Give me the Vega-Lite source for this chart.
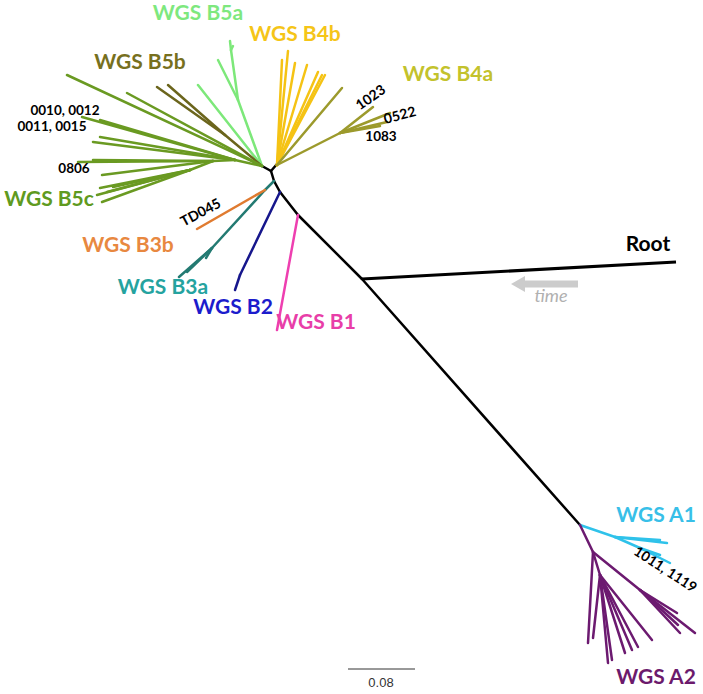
{
  "$schema": "https://vega.github.io/schema/vega-lite/v6.json",
  "width": 703,
  "height": 694,
  "padding": 0,
  "autosize": {"type": "none"},
  "background": "white",
  "config": {"view": {"stroke": null}},
  "datasets": {
    "segments": [
      {"clade": "bb", "x": 362, "y": 279, "x2": 580, "y2": 525},
      {"clade": "bb", "x": 362, "y": 279, "x2": 298, "y2": 215},
      {"clade": "bb", "x": 298, "y": 215, "x2": 280, "y2": 192},
      {"clade": "bb", "x": 280, "y": 192, "x2": 274, "y2": 181},
      {"clade": "bb", "x": 274, "y": 181, "x2": 271, "y2": 171},
      {"clade": "bb", "x": 271, "y": 171, "x2": 262, "y2": 166},
      {"clade": "bb", "x": 271, "y": 171, "x2": 277, "y2": 164},
      {"clade": "B1", "x": 298, "y": 215, "x2": 277, "y2": 330},
      {"clade": "B2", "x": 280, "y": 192, "x2": 240, "y2": 275},
      {"clade": "B2", "x": 240, "y": 275, "x2": 235, "y2": 290},
      {"clade": "B3a", "x": 274, "y": 181, "x2": 265, "y2": 190},
      {"clade": "B3a", "x": 265, "y": 190, "x2": 212, "y2": 248},
      {"clade": "B3a", "x": 212, "y": 248, "x2": 179, "y2": 277},
      {"clade": "B3a", "x": 212, "y": 248, "x2": 187, "y2": 272},
      {"clade": "B3a", "x": 212, "y": 248, "x2": 206, "y2": 258},
      {"clade": "B3b", "x": 265, "y": 190, "x2": 197, "y2": 229},
      {"clade": "B5a", "x": 262, "y": 166, "x2": 198, "y2": 85},
      {"clade": "B5a", "x": 262, "y": 166, "x2": 238, "y2": 100},
      {"clade": "B5a", "x": 238, "y": 100, "x2": 218, "y2": 60},
      {"clade": "B5a", "x": 238, "y": 100, "x2": 231, "y2": 50},
      {"clade": "B5a", "x": 231, "y": 50, "x2": 230, "y2": 41},
      {"clade": "B5a", "x": 231, "y": 50, "x2": 233, "y2": 46},
      {"clade": "B5b", "x": 262, "y": 166, "x2": 225, "y2": 135},
      {"clade": "B5b", "x": 225, "y": 135, "x2": 157, "y2": 87},
      {"clade": "B5b", "x": 225, "y": 135, "x2": 168, "y2": 85},
      {"clade": "B5c", "x": 262, "y": 166, "x2": 67, "y2": 75},
      {"clade": "B5c", "x": 262, "y": 166, "x2": 127, "y2": 93},
      {"clade": "B5c", "x": 262, "y": 166, "x2": 235, "y2": 160},
      {"clade": "B5c", "x": 235, "y": 160, "x2": 82, "y2": 117},
      {"clade": "B5c", "x": 235, "y": 160, "x2": 100, "y2": 120},
      {"clade": "B5c", "x": 235, "y": 160, "x2": 93, "y2": 142},
      {"clade": "B5c", "x": 235, "y": 160, "x2": 100, "y2": 137},
      {"clade": "B5c", "x": 235, "y": 160, "x2": 213, "y2": 161},
      {"clade": "B5c", "x": 213, "y": 161, "x2": 78, "y2": 162},
      {"clade": "B5c", "x": 213, "y": 161, "x2": 93, "y2": 160},
      {"clade": "B5c", "x": 213, "y": 161, "x2": 102, "y2": 175},
      {"clade": "B5c", "x": 213, "y": 161, "x2": 190, "y2": 170},
      {"clade": "B5c", "x": 190, "y": 170, "x2": 100, "y2": 188},
      {"clade": "B5c", "x": 190, "y": 170, "x2": 107, "y2": 192},
      {"clade": "B5c", "x": 190, "y": 170, "x2": 113, "y2": 187},
      {"clade": "B5c", "x": 190, "y": 170, "x2": 97, "y2": 195},
      {"clade": "B5c", "x": 190, "y": 170, "x2": 102, "y2": 202},
      {"clade": "B4b", "x": 277, "y": 165, "x2": 282, "y2": 60},
      {"clade": "B4b", "x": 277, "y": 165, "x2": 288, "y2": 51},
      {"clade": "B4b", "x": 277, "y": 165, "x2": 295, "y2": 63},
      {"clade": "B4b", "x": 277, "y": 165, "x2": 307, "y2": 65},
      {"clade": "B4b", "x": 277, "y": 165, "x2": 318, "y2": 72},
      {"clade": "B4b", "x": 277, "y": 165, "x2": 322, "y2": 75},
      {"clade": "B4b", "x": 277, "y": 165, "x2": 325, "y2": 75},
      {"clade": "B4a", "x": 277, "y": 165, "x2": 342, "y2": 88},
      {"clade": "B4a", "x": 277, "y": 165, "x2": 340, "y2": 133},
      {"clade": "B4a", "x": 340, "y": 133, "x2": 373, "y2": 107},
      {"clade": "B4a", "x": 340, "y": 133, "x2": 390, "y2": 113},
      {"clade": "B4a", "x": 340, "y": 133, "x2": 387, "y2": 122},
      {"clade": "B4a", "x": 340, "y": 133, "x2": 380, "y2": 126},
      {"clade": "A1", "x": 580, "y": 525, "x2": 615, "y2": 537},
      {"clade": "A1", "x": 615, "y": 537, "x2": 667, "y2": 543},
      {"clade": "A1", "x": 615, "y": 537, "x2": 660, "y2": 540},
      {"clade": "A1", "x": 615, "y": 537, "x2": 640, "y2": 548},
      {"clade": "A1", "x": 640, "y": 548, "x2": 670, "y2": 563},
      {"clade": "A1", "x": 640, "y": 548, "x2": 660, "y2": 555},
      {"clade": "A2", "x": 580, "y": 525, "x2": 593, "y2": 552},
      {"clade": "A2", "x": 593, "y": 552, "x2": 588, "y2": 643},
      {"clade": "A2", "x": 593, "y": 552, "x2": 600, "y2": 575},
      {"clade": "A2", "x": 600, "y": 575, "x2": 593, "y2": 638},
      {"clade": "A2", "x": 600, "y": 575, "x2": 608, "y2": 663},
      {"clade": "A2", "x": 600, "y": 575, "x2": 612, "y2": 660},
      {"clade": "A2", "x": 600, "y": 575, "x2": 625, "y2": 653},
      {"clade": "A2", "x": 600, "y": 575, "x2": 632, "y2": 650},
      {"clade": "A2", "x": 600, "y": 575, "x2": 638, "y2": 647},
      {"clade": "A2", "x": 600, "y": 575, "x2": 652, "y2": 640},
      {"clade": "A2", "x": 593, "y": 552, "x2": 640, "y2": 590},
      {"clade": "A2", "x": 640, "y": 590, "x2": 680, "y2": 633},
      {"clade": "A2", "x": 640, "y": 590, "x2": 695, "y2": 633},
      {"clade": "A2", "x": 640, "y": 590, "x2": 677, "y2": 613},
      {"clade": "A2", "x": 640, "y": 590, "x2": 678, "y2": 625}
    ],
    "rootBranch": [{"x": 362, "y": 279, "x2": 676, "y2": 262}],
    "scalebar": [{"x": 348, "y": 669, "x2": 415, "y2": 669}],
    "arrow": [{"x": 524, "y": 284, "x2": 578, "y2": 284}],
    "arrowhead": [{"x": 518, "y": 284}],
    "cladeLabels": [
      {"label": "WGS B5a", "clade": "B5a", "x": 198, "y": 14},
      {"label": "WGS B4b", "clade": "B4b", "x": 295, "y": 35},
      {"label": "WGS B5b", "clade": "B5b", "x": 140, "y": 63},
      {"label": "WGS B4a", "clade": "B4a", "x": 448, "y": 75},
      {"label": "WGS B5c", "clade": "B5c", "x": 49, "y": 200},
      {"label": "WGS B3b", "clade": "B3b", "x": 128, "y": 246},
      {"label": "WGS B3a", "clade": "B3a", "x": 163, "y": 288},
      {"label": "WGS B2", "clade": "B2", "x": 233, "y": 308},
      {"label": "WGS B1", "clade": "B1", "x": 316, "y": 323},
      {"label": "WGS A1", "clade": "A1", "x": 656, "y": 516},
      {"label": "WGS A2", "clade": "A2", "x": 656, "y": 678},
      {"label": "Root", "clade": "Root", "x": 648, "y": 245}
    ],
    "tips": [
      {"label": "0010, 0012", "x": 65, "y": 111},
      {"label": "0011, 0015", "x": 52, "y": 127},
      {"label": "0806", "x": 74, "y": 169},
      {"label": "1083", "x": 381, "y": 137}
    ],
    "tipsRot": [
      {"label": "TD045", "x": 201, "y": 213, "rot": "a"},
      {"label": "1023", "x": 371, "y": 98, "rot": "b"},
      {"label": "0522", "x": 400, "y": 116, "rot": "c"},
      {"label": "1011, 1119", "x": 665, "y": 570, "rot": "d"}
    ],
    "misc": [
      {"label": "time", "x": 551, "y": 297},
      {"label": "0.08", "x": 381, "y": 683}
    ]
  },
  "encoding": {
    "x": {"field": "x", "type": "quantitative", "scale": {"domain": [0, 703], "nice": false, "zero": false}, "axis": null},
    "y": {"field": "y", "type": "quantitative", "scale": {"domain": [0, 694], "nice": false, "zero": false, "reverse": true}, "axis": null}
  },
  "layer": [
    {
      "data": {"name": "arrow"},
      "mark": {"type": "rule", "stroke": "#cccccc", "strokeWidth": 7},
      "encoding": {"x2": {"field": "x2"}, "y2": {"field": "y2"}}
    },
    {
      "data": {"name": "arrowhead"},
      "mark": {"type": "point", "shape": "triangle-left", "filled": true, "color": "#cccccc", "size": 260, "opacity": 1}
    },
    {
      "data": {"name": "segments"},
      "mark": {"type": "rule", "strokeWidth": 2.5, "strokeCap": "round"},
      "encoding": {
        "x2": {"field": "x2"},
        "y2": {"field": "y2"},
        "color": {
          "field": "clade", "type": "nominal", "legend": null,
          "scale": {
            "domain": ["bb", "B5a", "B5b", "B5c", "B4b", "B4a", "B3b", "B3a", "B2", "B1", "A1", "A2"],
            "range": ["#000000", "#7de87a", "#6b651c", "#6a9a22", "#f5c314", "#9c9a2c", "#e07b30", "#237a72", "#16168c", "#ee3fb0", "#2fc2ea", "#6c1a70"]
          }
        }
      }
    },
    {
      "data": {"name": "rootBranch"},
      "mark": {"type": "rule", "strokeWidth": 3.2, "color": "#000000"},
      "encoding": {"x2": {"field": "x2"}, "y2": {"field": "y2"}}
    },
    {
      "data": {"name": "scalebar"},
      "mark": {"type": "rule", "strokeWidth": 1, "color": "#333333"},
      "encoding": {"x2": {"field": "x2"}, "y2": {"field": "y2"}}
    },
    {
      "data": {"name": "cladeLabels"},
      "mark": {"type": "text", "font": "Lato", "fontWeight": "bold", "fontSize": 21, "align": "center", "baseline": "middle"},
      "encoding": {
        "text": {"field": "label"},
        "color": {
          "field": "clade", "type": "nominal", "legend": null,
          "scale": {
            "domain": ["Root", "B5a", "B5b", "B5c", "B4b", "B4a", "B3b", "B3a", "B2", "B1", "A1", "A2"],
            "range": ["#000000", "#7ee87e", "#77701e", "#5f9a20", "#f5c518", "#c3c22c", "#e88840", "#25a39f", "#1c1ccc", "#e83ea8", "#38bfe8", "#6c1a6c"]
          }
        }
      }
    },
    {
      "data": {"name": "tips"},
      "mark": {"type": "text", "font": "Lato", "fontWeight": "bold", "fontSize": 13.5, "align": "center", "baseline": "middle", "color": "#000000"},
      "encoding": {"text": {"field": "label"}}
    },
    {
      "data": {"name": "tipsRot"},
      "transform": [{"filter": "datum.rot == 'a'"}],
      "mark": {"type": "text", "font": "Lato", "fontWeight": "bold", "fontSize": 14, "align": "center", "baseline": "middle", "color": "#000000", "angle": 332},
      "encoding": {"text": {"field": "label"}}
    },
    {
      "data": {"name": "tipsRot"},
      "transform": [{"filter": "datum.rot == 'b'"}],
      "mark": {"type": "text", "font": "Lato", "fontWeight": "bold", "fontSize": 14, "align": "center", "baseline": "middle", "color": "#000000", "angle": 325},
      "encoding": {"text": {"field": "label"}}
    },
    {
      "data": {"name": "tipsRot"},
      "transform": [{"filter": "datum.rot == 'c'"}],
      "mark": {"type": "text", "font": "Lato", "fontWeight": "bold", "fontSize": 14, "align": "center", "baseline": "middle", "color": "#000000", "angle": 345},
      "encoding": {"text": {"field": "label"}}
    },
    {
      "data": {"name": "tipsRot"},
      "transform": [{"filter": "datum.rot == 'd'"}],
      "mark": {"type": "text", "font": "Lato", "fontWeight": "bold", "fontSize": 14, "align": "center", "baseline": "middle", "color": "#000000", "angle": 33},
      "encoding": {"text": {"field": "label"}}
    },
    {
      "data": {"name": "misc"},
      "transform": [{"filter": "datum.label == 'time'"}],
      "mark": {"type": "text", "font": "Lato", "fontStyle": "italic", "fontSize": 18, "align": "center", "baseline": "middle", "color": "#b0b0b0"},
      "encoding": {"text": {"field": "label"}}
    },
    {
      "data": {"name": "misc"},
      "transform": [{"filter": "datum.label == '0.08'"}],
      "mark": {"type": "text", "font": "Liberation Sans", "fontSize": 13, "align": "center", "baseline": "middle", "color": "#333333"},
      "encoding": {"text": {"field": "label"}}
    }
  ],
  "resolve": {"scale": {"color": "independent"}}
}
